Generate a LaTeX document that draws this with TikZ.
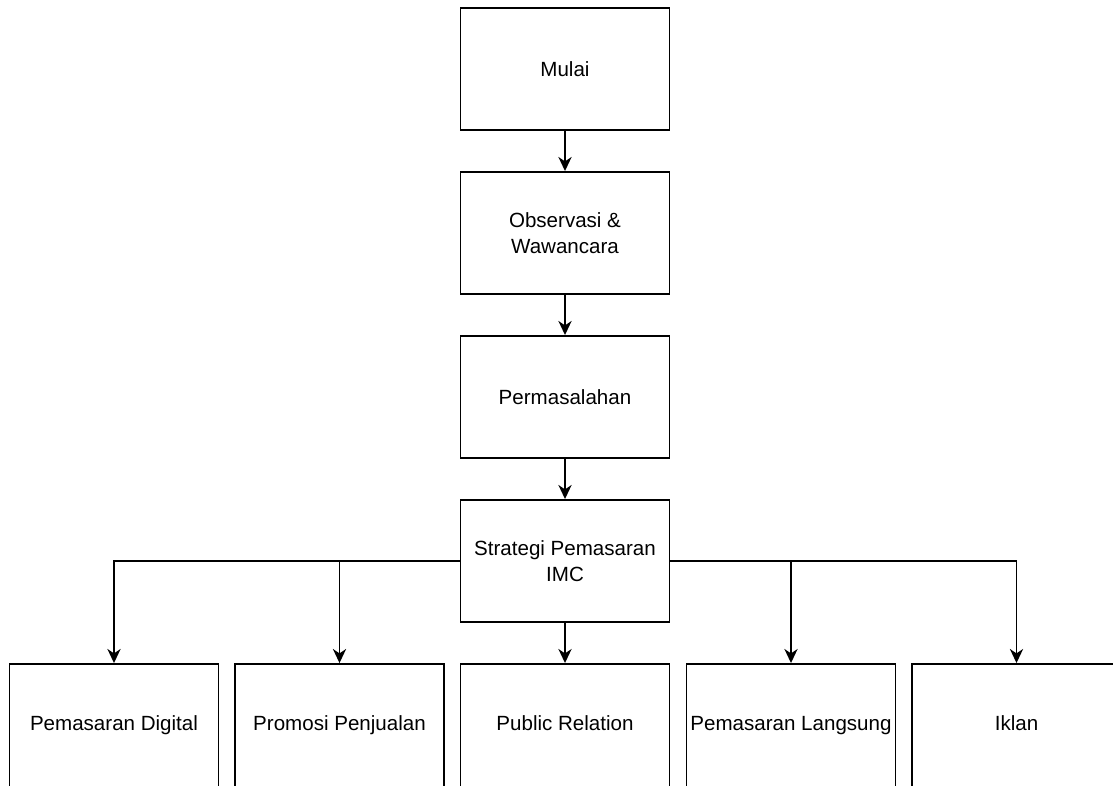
\documentclass[tikz,border=0pt]{standalone}
\usepackage{fontspec}
\setmainfont{Liberation Sans}
\usetikzlibrary{arrows.meta,positioning}

\tikzset{
	kotak/.style={draw, line width=1.1pt, minimum width=4.18cm, minimum height=2.44cm, inner sep=0pt, align=center, font=\fontsize{11.7}{15}\selectfont},
	kotakbawah/.style={kotak, minimum height=2.6cm, text height=0.3cm, text depth=0.25cm},
	panah/.style={-{Stealth[length=8pt,width=7.5pt,inset=2.5pt]}, line width=1.1pt}
}

\begin{document}
\begin{tikzpicture}[x=0.02cm,y=-0.02cm]
		\useasboundingbox (0,0) rectangle (1113,785);
		\node[kotak] (mulai) at (565,69) {Mulai};
		\node[kotak] (obs) at (565,233) {Observasi \&\\Wawancara};
		\node[kotak] (masalah) at (565,397) {Permasalahan};
		\node[kotak] (strat) at (565,561) {Strategi Pemasaran\\IMC};
		% baris bawah terpotong di tepi gambar
		\node[kotakbawah] (digital) at (114,729) {Pemasaran Digital};
		\node[kotakbawah] (promosi) at (339.5,729) {Promosi Penjualan};
		\node[kotakbawah] (pr) at (565,729) {Public Relation};
		\node[kotakbawah] (langsung) at (791,729) {Pemasaran Langsung};
		\node[kotakbawah] (iklan) at (1016.5,729) {Iklan};
		\draw[panah] (mulai) -- (obs);
		\draw[panah] (obs) -- (masalah);
		\draw[panah] (masalah) -- (strat);
		\draw[panah] (strat) -- (pr);
		\draw[panah] (strat.west) -| (digital.north);
		\draw[panah] (strat.west) -| (promosi.north);
		\draw[panah] (strat.east) -| (langsung.north);
		\draw[panah] (strat.east) -| (iklan.north);
		\end{tikzpicture}
\end{document}
